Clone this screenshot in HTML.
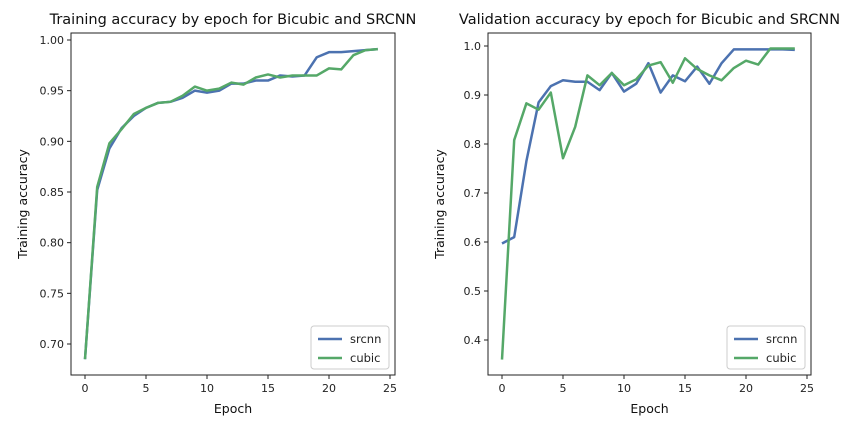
<!DOCTYPE html>
<html><head><meta charset="utf-8"><style>
body{margin:0;background:#fff;font-family:"Liberation Sans","DejaVu Sans",sans-serif}
svg text{font-family:"DejaVu Sans","Liberation Sans",sans-serif}
</style></head><body>
<svg id="c" width="864" height="432" xmlns="http://www.w3.org/2000/svg"></svg>
<script>
const epochs=[0,1,2,3,4,5,6,7,8,9,10,11,12,13,14,15,16,17,18,19,20,21,22,23,24];
const trainSrcnn=[0.685,0.852,0.893,0.913,0.925,0.933,0.938,0.939,0.943,0.950,0.948,0.950,0.957,0.957,0.960,0.960,0.965,0.964,0.965,0.983,0.988,0.988,0.989,0.990,0.991];
const trainCubic=[0.685,0.855,0.898,0.912,0.927,0.933,0.938,0.939,0.945,0.954,0.950,0.952,0.958,0.956,0.963,0.966,0.963,0.965,0.965,0.965,0.972,0.971,0.985,0.990,0.991];
const valSrcnn=[0.597,0.61,0.765,0.885,0.918,0.93,0.927,0.927,0.91,0.945,0.907,0.923,0.965,0.905,0.94,0.928,0.958,0.923,0.965,0.993,0.993,0.993,0.993,0.993,0.992];
const valCubic=[0.36,0.808,0.883,0.87,0.905,0.771,0.835,0.94,0.92,0.945,0.92,0.932,0.96,0.967,0.925,0.975,0.953,0.94,0.93,0.955,0.97,0.962,0.995,0.995,0.995];
const xTicks=[0,5,10,15,20,25];
const trainYTicks=[0.70,0.75,0.80,0.85,0.90,0.95,1.00];
const valYTicks=[0.4,0.5,0.6,0.7,0.8,0.9,1.0];
const NS="http://www.w3.org/2000/svg",svg=document.getElementById('c');
function mk(t,a,p){const e=document.createElementNS(NS,t);for(const k in a)e.setAttribute(k,a[k]);(p||svg).appendChild(e);return e;}
function panel(o){
  const g=mk('g',{});
  
  
  const xs=v=>o.x0+(v-0)*(o.x25-o.x0)/25;
  const ys=v=>o.yA+(v-o.vA)*(o.yB-o.yA)/(o.vB-o.vA);
  const fr=mk('rect',{x:o.L,y:o.T,width:o.R-o.L,height:o.B-o.T,fill:'none',stroke:'#222','stroke-width':1},g);
  
  xTicks.forEach(t=>{const x=xs(t);mk('line',{x1:x,x2:x,y1:o.B,y2:o.B+4,stroke:'#222'},g);
    const tx=mk('text',{x:x,y:o.B+17,'text-anchor':'middle','font-size':11,fill:'#222'},g);tx.textContent=t;
    });
  o.yt.forEach(t=>{const y=ys(t);mk('line',{x1:o.L-4,x2:o.L,y1:y,y2:y,stroke:'#222'},g);
    const tx=mk('text',{x:o.L-7,y:y+4,'text-anchor':'end','font-size':11,fill:'#222'},g);tx.textContent=t.toFixed(o.dec);
    });
  const series=[[o.s1,'#4c72b0','srcnn'],[o.s2,'#55a868','cubic']];
  series.forEach(([d,c,n])=>{const pl=mk('polyline',{points:d.map((v,i)=>xs(epochs[i])+','+ys(v)).join(' '),fill:'none',stroke:c,'stroke-width':2.5,'stroke-linejoin':'round'},g);
    });
  const tt=mk('text',{x:(o.L+o.R)/2,y:o.T-9,'text-anchor':'middle','font-size':14.5,fill:'#111'},g);tt.textContent=o.title;
  
  const xl=mk('text',{x:(o.L+o.R)/2,y:o.B+38,'text-anchor':'middle','font-size':12.5,fill:'#111'},g);xl.textContent='Epoch';
  
  const cy=(o.T+o.B)/2,cx=o.L-44;
  const yl=mk('text',{x:cx,y:cy,'text-anchor':'middle','font-size':12.5,fill:'#111',transform:`rotate(-90 ${cx} ${cy})`},g);yl.textContent='Training accuracy';
  
  const lg=mk('g',{},g);
  const lx=o.R-84,ly=o.B-49;
  mk('rect',{x:lx,y:ly,width:78,height:43,rx:3,fill:'#fff',stroke:'#ccc'},lg);
  series.forEach(([d,c,n],i)=>{const y=ly+13+i*19;mk('line',{x1:lx+7,x2:lx+31,y1:y,y2:y,stroke:c,'stroke-width':2.5},lg);
    const t=mk('text',{x:lx+39,y:y+4,'font-size':11.5,fill:'#222'},lg);t.textContent=n;
    });
}
panel({name:'training-accuracy-chart',L:71,R:395,T:33,B:375,x0:85,x25:390,yA:40,vA:1.0,yB:344,vB:0.70,yt:trainYTicks,dec:2,s1:trainSrcnn,s2:trainCubic,title:'Training accuracy by epoch for Bicubic and SRCNN'});
panel({name:'validation-accuracy-chart',L:488,R:811,T:33,B:375,x0:502,x25:807,yA:46,vA:1.0,yB:340,vB:0.4,yt:valYTicks,dec:1,s1:valSrcnn,s2:valCubic,title:'Validation accuracy by epoch for Bicubic and SRCNN'});
</script>
</body></html>
